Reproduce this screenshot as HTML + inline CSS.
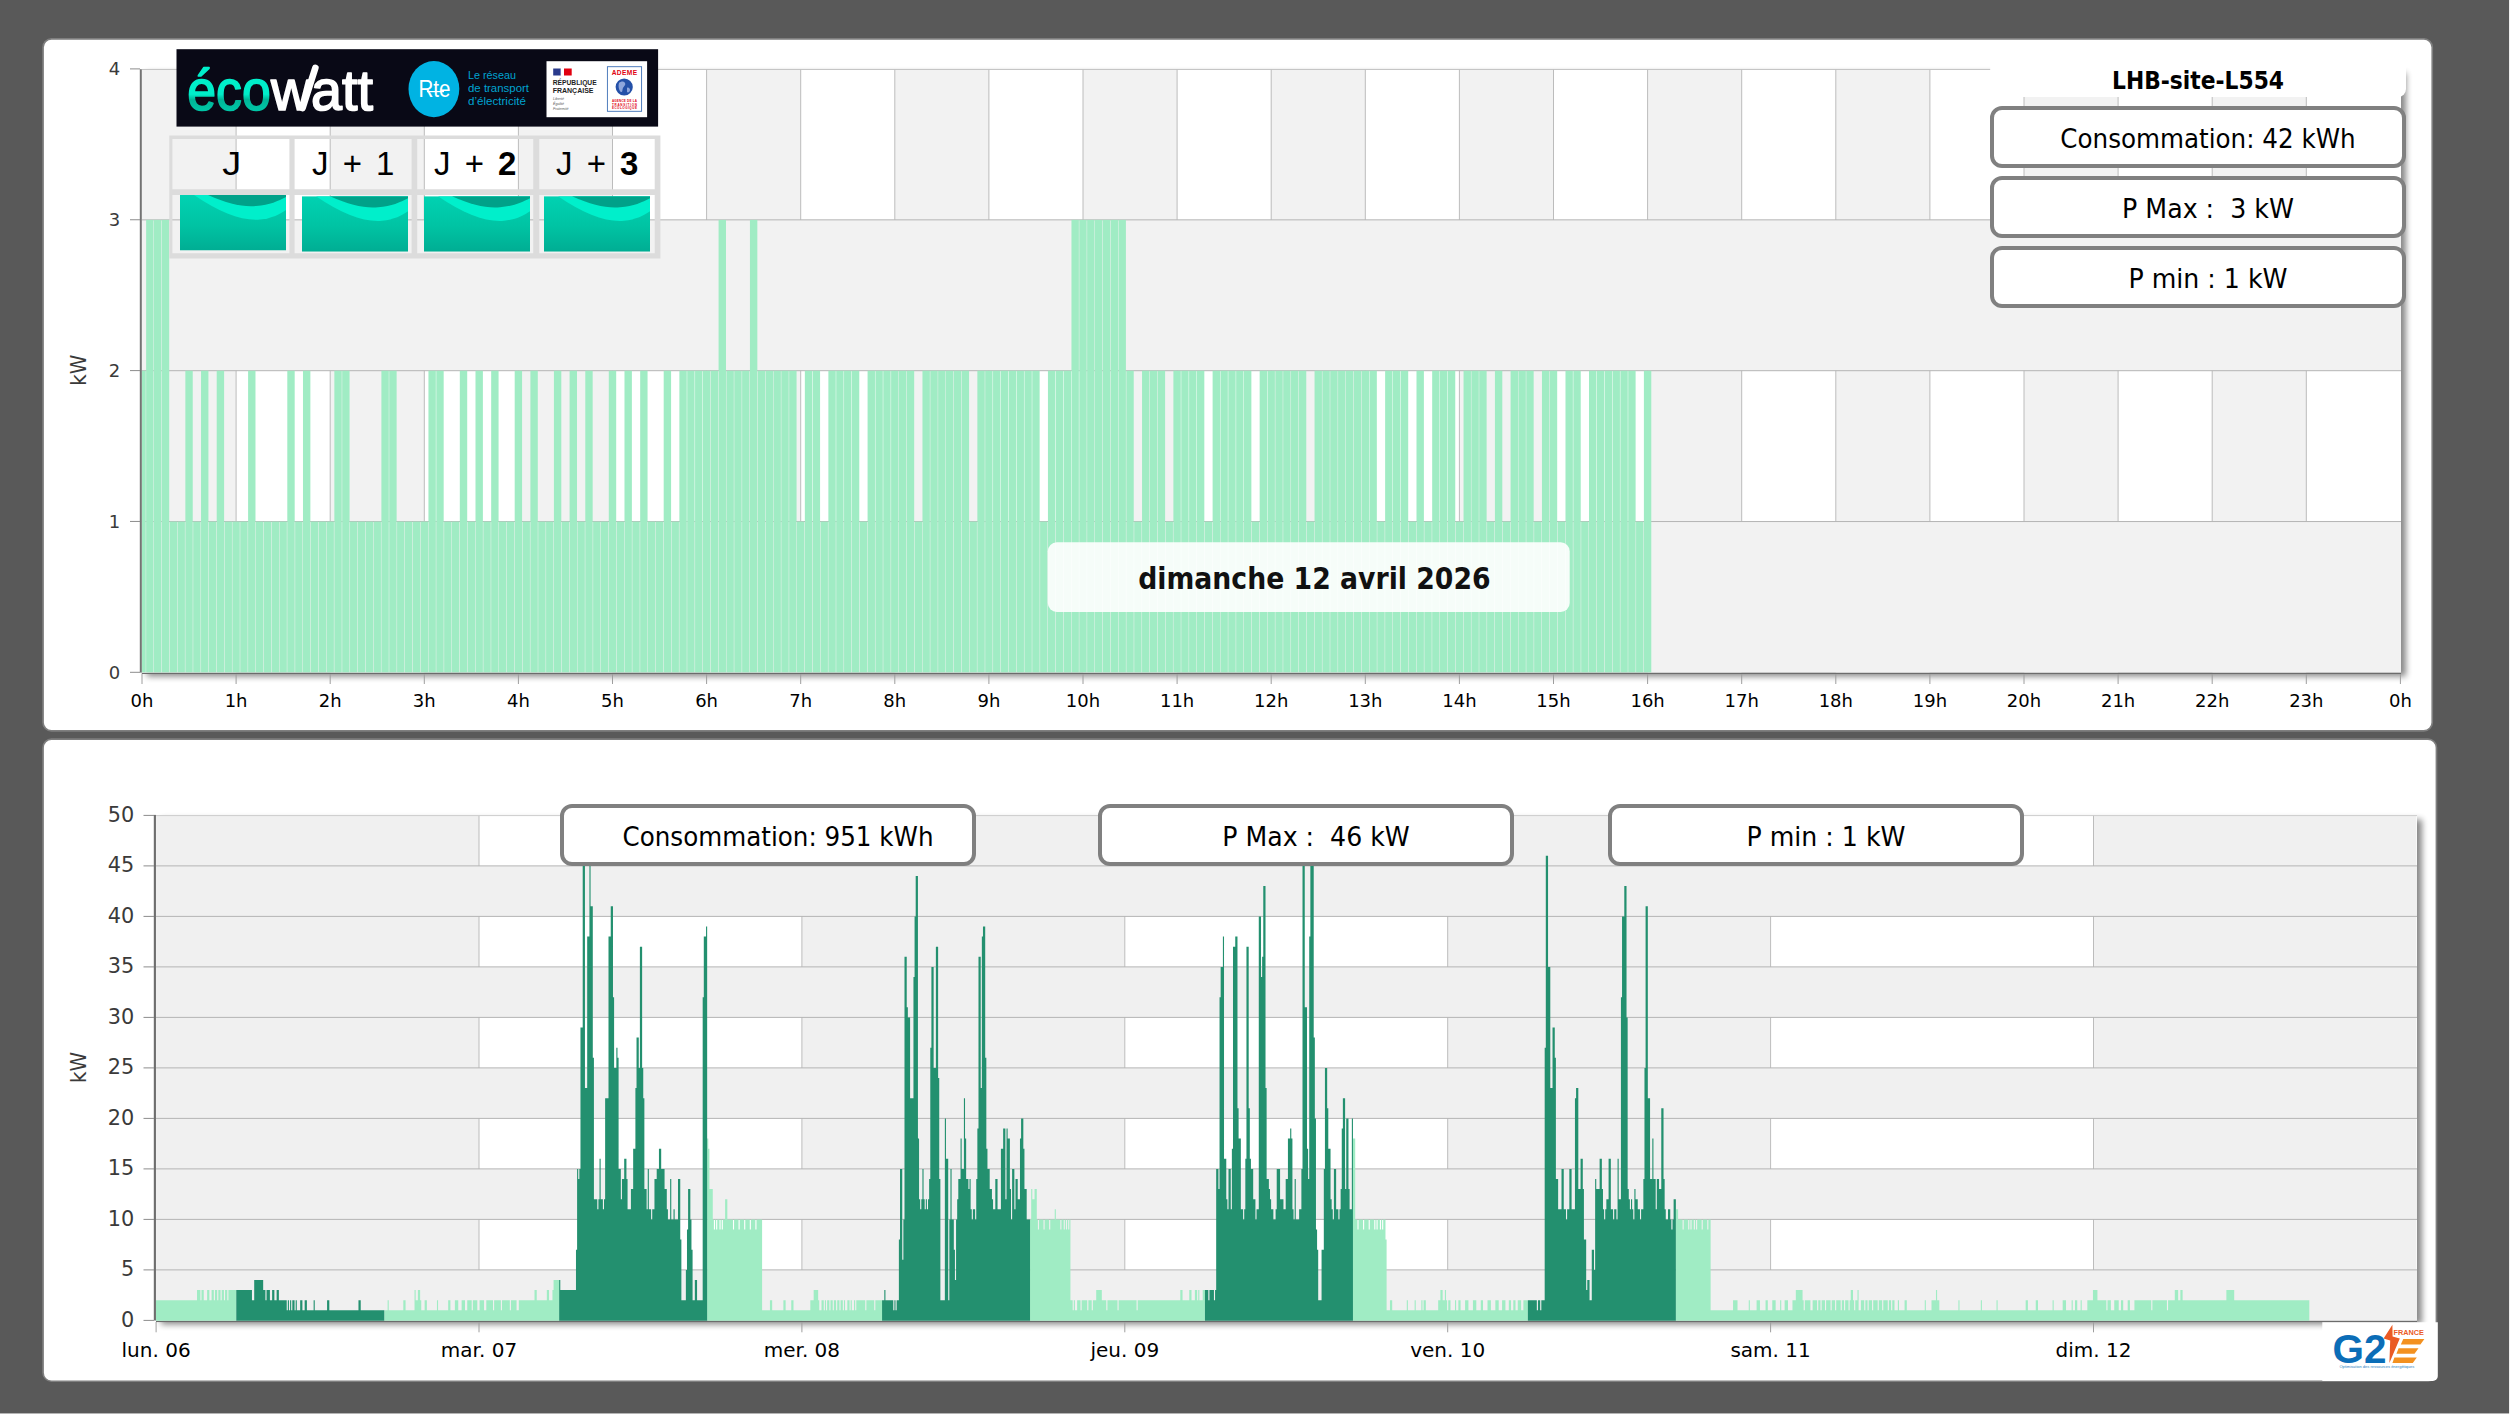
<!DOCTYPE html>
<html lang="fr"><head><meta charset="utf-8"><title>LHB-site-L554 - Suivi de consommation</title>
<style>html,body{margin:0;padding:0;background:#595959;overflow:hidden}body{width:2511px;height:1415px}svg{display:block}text{white-space:pre}</style>
</head><body>
<svg width="2511" height="1415" viewBox="0 0 2511 1415" role="img" aria-label="Tableau de bord consommation LHB-site-L554">
<defs>
<filter id="sh" x="-2%" y="-2%" width="104%" height="106%"><feGaussianBlur in="SourceAlpha" stdDeviation="3"/><feOffset dx="4.5" dy="3.5"/><feComponentTransfer><feFuncA type="linear" slope="0.47"/></feComponentTransfer></filter>
<filter id="sh2" x="-5%" y="-20%" width="110%" height="150%"><feGaussianBlur in="SourceAlpha" stdDeviation="1.6"/><feOffset dx="2" dy="2"/><feComponentTransfer><feFuncA type="linear" slope="0.5"/></feComponentTransfer></filter>
<linearGradient id="wg" x1="0" y1="0" x2="0" y2="1"><stop offset="0" stop-color="#00d2b2"/><stop offset="0.55" stop-color="#00c3a3"/><stop offset="1" stop-color="#00ad93"/></linearGradient>
<clipPath id="wc"><rect x="0" y="0" width="106" height="55.5"/></clipPath>
</defs>
<rect width="2511" height="1415" fill="#595959"/>
<rect x="2509.1" y="0" width="2" height="1415" fill="#fff"/><rect x="0" y="1413.45" width="2511" height="2" fill="#fff"/>
<rect x="43.05" y="38.85" width="2389.2" height="692.1" rx="8.5" fill="#fff" stroke="#7e7e7e" stroke-width="1.7"/>
<rect x="43.05" y="739.15" width="2393.4" height="642.1" rx="8.5" fill="#fff" stroke="#7e7e7e" stroke-width="1.7"/>
<g id="chart-day">
<rect x="141.8" y="69" width="2259.2" height="603.4" filter="url(#sh)"/>
<rect x="141.8" y="69" width="2259.2" height="603.4" fill="#fff"/>
<rect x="142" y="69" width="94.1" height="603.4" fill="#f2f2f2"/>
<rect x="330.2" y="69" width="94.1" height="603.4" fill="#f2f2f2"/>
<rect x="518.4" y="69" width="94.1" height="603.4" fill="#f2f2f2"/>
<rect x="706.6" y="69" width="94.1" height="603.4" fill="#f2f2f2"/>
<rect x="894.8" y="69" width="94.1" height="603.4" fill="#f2f2f2"/>
<rect x="1083" y="69" width="94.1" height="603.4" fill="#f2f2f2"/>
<rect x="1271.2" y="69" width="94.1" height="603.4" fill="#f2f2f2"/>
<rect x="1459.4" y="69" width="94.1" height="603.4" fill="#f2f2f2"/>
<rect x="1647.6" y="69" width="94.1" height="603.4" fill="#f2f2f2"/>
<rect x="1835.8" y="69" width="94.1" height="603.4" fill="#f2f2f2"/>
<rect x="2024" y="69" width="94.1" height="603.4" fill="#f2f2f2"/>
<rect x="2212.2" y="69" width="94.1" height="603.4" fill="#f2f2f2"/>
<path d="M236.1,69V672.4M330.2,69V672.4M424.3,69V672.4M518.4,69V672.4M612.5,69V672.4M706.6,69V672.4M800.7,69V672.4M894.8,69V672.4M988.9,69V672.4M1083,69V672.4M1177.1,69V672.4M1271.2,69V672.4M1365.3,69V672.4M1459.4,69V672.4M1553.5,69V672.4M1647.6,69V672.4M1741.7,69V672.4M1835.8,69V672.4M1929.9,69V672.4M2024,69V672.4M2118.1,69V672.4M2212.2,69V672.4M2306.3,69V672.4" stroke="#bcbcbc" stroke-width="1" fill="none"/>
<rect x="141.8" y="521.55" width="2259.2" height="150.85" fill="#f2f2f2"/>
<rect x="141.8" y="219.85" width="2259.2" height="150.85" fill="#f2f2f2"/>
<path d="M141.8,521.55H2401M141.8,370.7H2401M141.8,219.85H2401" stroke="#b4b4b4" stroke-width="1" fill="none"/>
<path d="M141.8,69.45H2401" stroke="#c2c2c2" stroke-width="1" fill="none"/>
<g fill="#a0ecc4">
<rect x="141.8" y="370.7" width="3.9" height="301.7"/>
<rect x="146.15" y="219.85" width="7.39" height="452.55"/>
<rect x="153.99" y="219.85" width="7.39" height="452.55"/>
<rect x="161.83" y="219.85" width="7.39" height="452.55"/>
<rect x="169.67" y="521.55" width="7.39" height="150.85"/>
<rect x="177.51" y="521.55" width="7.39" height="150.85"/>
<rect x="185.35" y="370.7" width="7.39" height="301.7"/>
<rect x="193.2" y="521.55" width="7.39" height="150.85"/>
<rect x="201.04" y="370.7" width="7.39" height="301.7"/>
<rect x="208.88" y="521.55" width="7.39" height="150.85"/>
<rect x="216.72" y="370.7" width="7.39" height="301.7"/>
<rect x="224.56" y="521.55" width="7.39" height="150.85"/>
<rect x="232.4" y="521.55" width="7.39" height="150.85"/>
<rect x="240.25" y="521.55" width="7.39" height="150.85"/>
<rect x="248.09" y="370.7" width="7.39" height="301.7"/>
<rect x="255.93" y="521.55" width="7.39" height="150.85"/>
<rect x="263.77" y="521.55" width="7.39" height="150.85"/>
<rect x="271.61" y="521.55" width="7.39" height="150.85"/>
<rect x="279.45" y="521.55" width="7.39" height="150.85"/>
<rect x="287.3" y="370.7" width="7.39" height="301.7"/>
<rect x="295.14" y="521.55" width="7.39" height="150.85"/>
<rect x="302.98" y="370.7" width="7.39" height="301.7"/>
<rect x="310.82" y="521.55" width="7.39" height="150.85"/>
<rect x="318.66" y="521.55" width="7.39" height="150.85"/>
<rect x="326.5" y="521.55" width="7.39" height="150.85"/>
<rect x="334.35" y="370.7" width="7.39" height="301.7"/>
<rect x="342.19" y="370.7" width="7.39" height="301.7"/>
<rect x="350.03" y="521.55" width="7.39" height="150.85"/>
<rect x="357.87" y="521.55" width="7.39" height="150.85"/>
<rect x="365.71" y="521.55" width="7.39" height="150.85"/>
<rect x="373.55" y="521.55" width="7.39" height="150.85"/>
<rect x="381.4" y="370.7" width="7.39" height="301.7"/>
<rect x="389.24" y="370.7" width="7.39" height="301.7"/>
<rect x="397.08" y="521.55" width="7.39" height="150.85"/>
<rect x="404.92" y="521.55" width="7.39" height="150.85"/>
<rect x="412.76" y="521.55" width="7.39" height="150.85"/>
<rect x="420.6" y="521.55" width="7.39" height="150.85"/>
<rect x="428.45" y="370.7" width="7.39" height="301.7"/>
<rect x="436.29" y="370.7" width="7.39" height="301.7"/>
<rect x="444.13" y="521.55" width="7.39" height="150.85"/>
<rect x="451.97" y="521.55" width="7.39" height="150.85"/>
<rect x="459.81" y="370.7" width="7.39" height="301.7"/>
<rect x="467.65" y="521.55" width="7.39" height="150.85"/>
<rect x="475.5" y="370.7" width="7.39" height="301.7"/>
<rect x="483.34" y="521.55" width="7.39" height="150.85"/>
<rect x="491.18" y="370.7" width="7.39" height="301.7"/>
<rect x="499.02" y="521.55" width="7.39" height="150.85"/>
<rect x="506.86" y="521.55" width="7.39" height="150.85"/>
<rect x="514.7" y="370.7" width="7.39" height="301.7"/>
<rect x="522.55" y="521.55" width="7.39" height="150.85"/>
<rect x="530.39" y="370.7" width="7.39" height="301.7"/>
<rect x="538.23" y="521.55" width="7.39" height="150.85"/>
<rect x="546.07" y="521.55" width="7.39" height="150.85"/>
<rect x="553.91" y="370.7" width="7.39" height="301.7"/>
<rect x="561.75" y="521.55" width="7.39" height="150.85"/>
<rect x="569.6" y="370.7" width="7.39" height="301.7"/>
<rect x="577.44" y="521.55" width="7.39" height="150.85"/>
<rect x="585.28" y="370.7" width="7.39" height="301.7"/>
<rect x="593.12" y="521.55" width="7.39" height="150.85"/>
<rect x="600.96" y="521.55" width="7.39" height="150.85"/>
<rect x="608.8" y="370.7" width="7.39" height="301.7"/>
<rect x="616.65" y="521.55" width="7.39" height="150.85"/>
<rect x="624.49" y="370.7" width="7.39" height="301.7"/>
<rect x="632.33" y="521.55" width="7.39" height="150.85"/>
<rect x="640.17" y="370.7" width="7.39" height="301.7"/>
<rect x="648.01" y="521.55" width="7.39" height="150.85"/>
<rect x="655.85" y="521.55" width="7.39" height="150.85"/>
<rect x="663.7" y="370.7" width="7.39" height="301.7"/>
<rect x="671.54" y="521.55" width="7.39" height="150.85"/>
<rect x="679.38" y="370.7" width="7.39" height="301.7"/>
<rect x="687.22" y="370.7" width="7.39" height="301.7"/>
<rect x="695.06" y="370.7" width="7.39" height="301.7"/>
<rect x="702.9" y="370.7" width="7.39" height="301.7"/>
<rect x="710.75" y="370.7" width="7.39" height="301.7"/>
<rect x="718.59" y="219.85" width="7.39" height="452.55"/>
<rect x="726.43" y="370.7" width="7.39" height="301.7"/>
<rect x="734.27" y="370.7" width="7.39" height="301.7"/>
<rect x="742.11" y="370.7" width="7.39" height="301.7"/>
<rect x="749.95" y="219.85" width="7.39" height="452.55"/>
<rect x="757.8" y="370.7" width="7.39" height="301.7"/>
<rect x="765.64" y="370.7" width="7.39" height="301.7"/>
<rect x="773.48" y="370.7" width="7.39" height="301.7"/>
<rect x="781.32" y="370.7" width="7.39" height="301.7"/>
<rect x="789.16" y="370.7" width="7.39" height="301.7"/>
<rect x="797" y="521.55" width="7.39" height="150.85"/>
<rect x="804.85" y="370.7" width="7.39" height="301.7"/>
<rect x="812.69" y="370.7" width="7.39" height="301.7"/>
<rect x="820.53" y="521.55" width="7.39" height="150.85"/>
<rect x="828.37" y="370.7" width="7.39" height="301.7"/>
<rect x="836.21" y="370.7" width="7.39" height="301.7"/>
<rect x="844.05" y="370.7" width="7.39" height="301.7"/>
<rect x="851.9" y="370.7" width="7.39" height="301.7"/>
<rect x="859.74" y="521.55" width="7.39" height="150.85"/>
<rect x="867.58" y="370.7" width="7.39" height="301.7"/>
<rect x="875.42" y="370.7" width="7.39" height="301.7"/>
<rect x="883.26" y="370.7" width="7.39" height="301.7"/>
<rect x="891.1" y="370.7" width="7.39" height="301.7"/>
<rect x="898.95" y="370.7" width="7.39" height="301.7"/>
<rect x="906.79" y="370.7" width="7.39" height="301.7"/>
<rect x="914.63" y="521.55" width="7.39" height="150.85"/>
<rect x="922.47" y="370.7" width="7.39" height="301.7"/>
<rect x="930.31" y="370.7" width="7.39" height="301.7"/>
<rect x="938.15" y="370.7" width="7.39" height="301.7"/>
<rect x="946" y="370.7" width="7.39" height="301.7"/>
<rect x="953.84" y="370.7" width="7.39" height="301.7"/>
<rect x="961.68" y="370.7" width="7.39" height="301.7"/>
<rect x="969.52" y="521.55" width="7.39" height="150.85"/>
<rect x="977.36" y="370.7" width="7.39" height="301.7"/>
<rect x="985.2" y="370.7" width="7.39" height="301.7"/>
<rect x="993.05" y="370.7" width="7.39" height="301.7"/>
<rect x="1000.89" y="370.7" width="7.39" height="301.7"/>
<rect x="1008.73" y="370.7" width="7.39" height="301.7"/>
<rect x="1016.57" y="370.7" width="7.39" height="301.7"/>
<rect x="1024.41" y="370.7" width="7.39" height="301.7"/>
<rect x="1032.25" y="370.7" width="7.39" height="301.7"/>
<rect x="1040.1" y="521.55" width="7.39" height="150.85"/>
<rect x="1047.94" y="370.7" width="7.39" height="301.7"/>
<rect x="1055.78" y="370.7" width="7.39" height="301.7"/>
<rect x="1063.62" y="370.7" width="7.39" height="301.7"/>
<rect x="1071.46" y="219.85" width="7.39" height="452.55"/>
<rect x="1079.3" y="219.85" width="7.39" height="452.55"/>
<rect x="1087.15" y="219.85" width="7.39" height="452.55"/>
<rect x="1094.99" y="219.85" width="7.39" height="452.55"/>
<rect x="1102.83" y="219.85" width="7.39" height="452.55"/>
<rect x="1110.67" y="219.85" width="7.39" height="452.55"/>
<rect x="1118.51" y="219.85" width="7.39" height="452.55"/>
<rect x="1126.35" y="370.7" width="7.39" height="301.7"/>
<rect x="1134.2" y="521.55" width="7.39" height="150.85"/>
<rect x="1142.04" y="370.7" width="7.39" height="301.7"/>
<rect x="1149.88" y="370.7" width="7.39" height="301.7"/>
<rect x="1157.72" y="370.7" width="7.39" height="301.7"/>
<rect x="1165.56" y="521.55" width="7.39" height="150.85"/>
<rect x="1173.4" y="370.7" width="7.39" height="301.7"/>
<rect x="1181.25" y="370.7" width="7.39" height="301.7"/>
<rect x="1189.09" y="370.7" width="7.39" height="301.7"/>
<rect x="1196.93" y="370.7" width="7.39" height="301.7"/>
<rect x="1204.77" y="521.55" width="7.39" height="150.85"/>
<rect x="1212.61" y="370.7" width="7.39" height="301.7"/>
<rect x="1220.45" y="370.7" width="7.39" height="301.7"/>
<rect x="1228.3" y="370.7" width="7.39" height="301.7"/>
<rect x="1236.14" y="370.7" width="7.39" height="301.7"/>
<rect x="1243.98" y="370.7" width="7.39" height="301.7"/>
<rect x="1251.82" y="521.55" width="7.39" height="150.85"/>
<rect x="1259.66" y="370.7" width="7.39" height="301.7"/>
<rect x="1267.5" y="370.7" width="7.39" height="301.7"/>
<rect x="1275.35" y="370.7" width="7.39" height="301.7"/>
<rect x="1283.19" y="370.7" width="7.39" height="301.7"/>
<rect x="1291.03" y="370.7" width="7.39" height="301.7"/>
<rect x="1298.87" y="370.7" width="7.39" height="301.7"/>
<rect x="1306.71" y="521.55" width="7.39" height="150.85"/>
<rect x="1314.55" y="370.7" width="7.39" height="301.7"/>
<rect x="1322.4" y="370.7" width="7.39" height="301.7"/>
<rect x="1330.24" y="370.7" width="7.39" height="301.7"/>
<rect x="1338.08" y="370.7" width="7.39" height="301.7"/>
<rect x="1345.92" y="370.7" width="7.39" height="301.7"/>
<rect x="1353.76" y="370.7" width="7.39" height="301.7"/>
<rect x="1361.6" y="370.7" width="7.39" height="301.7"/>
<rect x="1369.45" y="370.7" width="7.39" height="301.7"/>
<rect x="1377.29" y="521.55" width="7.39" height="150.85"/>
<rect x="1385.13" y="370.7" width="7.39" height="301.7"/>
<rect x="1392.97" y="370.7" width="7.39" height="301.7"/>
<rect x="1400.81" y="370.7" width="7.39" height="301.7"/>
<rect x="1408.65" y="521.55" width="7.39" height="150.85"/>
<rect x="1416.5" y="370.7" width="7.39" height="301.7"/>
<rect x="1424.34" y="521.55" width="7.39" height="150.85"/>
<rect x="1432.18" y="370.7" width="7.39" height="301.7"/>
<rect x="1440.02" y="370.7" width="7.39" height="301.7"/>
<rect x="1447.86" y="370.7" width="7.39" height="301.7"/>
<rect x="1455.7" y="521.55" width="7.39" height="150.85"/>
<rect x="1463.55" y="370.7" width="7.39" height="301.7"/>
<rect x="1471.39" y="370.7" width="7.39" height="301.7"/>
<rect x="1479.23" y="370.7" width="7.39" height="301.7"/>
<rect x="1487.07" y="521.55" width="7.39" height="150.85"/>
<rect x="1494.91" y="370.7" width="7.39" height="301.7"/>
<rect x="1502.75" y="521.55" width="7.39" height="150.85"/>
<rect x="1510.6" y="370.7" width="7.39" height="301.7"/>
<rect x="1518.44" y="370.7" width="7.39" height="301.7"/>
<rect x="1526.28" y="370.7" width="7.39" height="301.7"/>
<rect x="1534.12" y="521.55" width="7.39" height="150.85"/>
<rect x="1541.96" y="370.7" width="7.39" height="301.7"/>
<rect x="1549.8" y="370.7" width="7.39" height="301.7"/>
<rect x="1557.65" y="521.55" width="7.39" height="150.85"/>
<rect x="1565.49" y="370.7" width="7.39" height="301.7"/>
<rect x="1573.33" y="370.7" width="7.39" height="301.7"/>
<rect x="1581.17" y="521.55" width="7.39" height="150.85"/>
<rect x="1589.01" y="370.7" width="7.39" height="301.7"/>
<rect x="1596.85" y="370.7" width="7.39" height="301.7"/>
<rect x="1604.7" y="370.7" width="7.39" height="301.7"/>
<rect x="1612.54" y="370.7" width="7.39" height="301.7"/>
<rect x="1620.38" y="370.7" width="7.39" height="301.7"/>
<rect x="1628.22" y="370.7" width="7.39" height="301.7"/>
<rect x="1636.06" y="521.55" width="7.39" height="150.85"/>
<rect x="1643.9" y="370.7" width="7.39" height="301.7"/>
</g>
<rect x="139.8" y="69.2" width="2" height="603.4" fill="#737373"/>
<rect x="141.8" y="672.9" width="2259.2" height="1.1" fill="#6c6c6c"/>
<path d="M130,672.3H140M130,521.45H140M130,370.6H140M130,219.75H140M130,68.9H140" stroke="#8c8c8c" stroke-width="1" fill="none"/>
<path d="M142,674V684M236.1,674V684M330.2,674V684M424.3,674V684M518.4,674V684M612.5,674V684M706.6,674V684M800.7,674V684M894.8,674V684M988.9,674V684M1083,674V684M1177.1,674V684M1271.2,674V684M1365.3,674V684M1459.4,674V684M1553.5,674V684M1647.6,674V684M1741.7,674V684M1835.8,674V684M1929.9,674V684M2024,674V684M2118.1,674V684M2212.2,674V684M2306.3,674V684M2400.4,674V684" stroke="#9e9e9e" stroke-width="1" fill="none"/>
<g font-family="'DejaVu Sans','Liberation Sans',sans-serif" font-size="18" fill="#3a3a3a" text-anchor="end">
<text x="120.3" y="678.5">0</text>
<text x="120.3" y="527.65">1</text>
<text x="120.3" y="376.8">2</text>
<text x="120.3" y="225.95">3</text>
<text x="120.3" y="75.1">4</text>
</g>
<g font-family="'DejaVu Sans','Liberation Sans',sans-serif" font-size="18" fill="#000" text-anchor="middle">
<text x="142" y="707">0h</text>
<text x="236.1" y="707">1h</text>
<text x="330.2" y="707">2h</text>
<text x="424.3" y="707">3h</text>
<text x="518.4" y="707">4h</text>
<text x="612.5" y="707">5h</text>
<text x="706.6" y="707">6h</text>
<text x="800.7" y="707">7h</text>
<text x="894.8" y="707">8h</text>
<text x="988.9" y="707">9h</text>
<text x="1083" y="707">10h</text>
<text x="1177.1" y="707">11h</text>
<text x="1271.2" y="707">12h</text>
<text x="1365.3" y="707">13h</text>
<text x="1459.4" y="707">14h</text>
<text x="1553.5" y="707">15h</text>
<text x="1647.6" y="707">16h</text>
<text x="1741.7" y="707">17h</text>
<text x="1835.8" y="707">18h</text>
<text x="1929.9" y="707">19h</text>
<text x="2024" y="707">20h</text>
<text x="2118.1" y="707">21h</text>
<text x="2212.2" y="707">22h</text>
<text x="2306.3" y="707">23h</text>
<text x="2400.4" y="707">0h</text>
</g>
<text transform="translate(86,370.2) rotate(-90)" font-family="'DejaVu Sans Condensed','Liberation Sans',sans-serif" font-size="22" fill="#3a3a3a" text-anchor="middle">kW</text>
</g>
<g id="ecowatt">
<rect x="176.5" y="49.2" width="481.6" height="77.4" fill="#090916"/>
<defs><linearGradient id="eg" gradientUnits="userSpaceOnUse" x1="0" y1="60" x2="0" y2="112"><stop offset="0" stop-color="#00f0cc"/><stop offset="0.66" stop-color="#00eec9"/><stop offset="0.76" stop-color="#00b597"/><stop offset="1" stop-color="#00c8a8"/></linearGradient></defs>
<text x="187.3" y="110.3" font-family="'Liberation Sans',sans-serif" font-size="58" fill="url(#eg)" stroke="url(#eg)" stroke-width="1.7" stroke-linejoin="round" textLength="83.5" lengthAdjust="spacingAndGlyphs">éco</text>
<text x="271" y="110.3" font-family="'Liberation Sans',sans-serif" font-size="58" fill="#fff" stroke="#fff" stroke-width="1.7" stroke-linejoin="round" textLength="40.5" lengthAdjust="spacingAndGlyphs">w</text>
<path d="M302.6,108 L315.4,67.8" stroke="#fff" stroke-width="6.6" stroke-linecap="round" fill="none"/>
<text x="311" y="110.3" font-family="'Liberation Sans',sans-serif" font-size="58" fill="#fff" stroke="#fff" stroke-width="1.7" stroke-linejoin="round" textLength="62" lengthAdjust="spacingAndGlyphs">att</text>
<ellipse cx="433.9" cy="89.1" rx="25.4" ry="28.1" fill="#00b3e3"/>
<text x="434.5" y="96.6" font-family="'Liberation Sans',sans-serif" font-size="23" fill="#fff" text-anchor="middle" textLength="32" lengthAdjust="spacingAndGlyphs">Rte</text>
<path d="M427,91.6H444" stroke="#fff" stroke-width="1.2"/>
<g font-family="'Liberation Sans',sans-serif" font-size="11.6" fill="#00a3d0"><text x="468" y="78.8" textLength="48" lengthAdjust="spacingAndGlyphs">Le réseau</text><text x="468" y="92.1" textLength="61" lengthAdjust="spacingAndGlyphs">de transport</text><text x="468" y="105.2">d’électricité</text></g>
<rect x="546.5" y="61.2" width="100.6" height="56" fill="#fff"/>
<rect x="553.2" y="68.5" width="7.6" height="7" fill="#2a3a8c"/><rect x="560.8" y="68.5" width="3.2" height="7" fill="#fff"/><rect x="564" y="68.5" width="7.7" height="7" fill="#e1000f"/>
<g font-family="'Liberation Sans',sans-serif" font-weight="bold" font-size="7.4" fill="#1e1e1e"><text x="552.7" y="84.7" textLength="44" lengthAdjust="spacingAndGlyphs">RÉPUBLIQUE</text><text x="552.7" y="93.3" textLength="40.8" lengthAdjust="spacingAndGlyphs">FRANÇAISE</text></g>
<g font-family="'Liberation Sans',sans-serif" font-style="italic" font-size="3.6" fill="#555"><text x="553" y="99.8">Liberté</text><text x="553" y="104.7">Égalité</text><text x="553" y="109.6">Fraternité</text></g>
<rect x="607.4" y="66.7" width="34.2" height="44.6" fill="#fff" stroke="#3d6fb6" stroke-width="0.9"/>
<text x="624.4" y="75" font-family="'Liberation Sans',sans-serif" font-weight="bold" font-size="6.6" fill="#e1000f" text-anchor="middle" textLength="25.5" lengthAdjust="spacing">ADEME</text>
<circle cx="624.2" cy="87" r="8.6" fill="#2450a8"/><path d="M619,83c2,-2 5,-2 6,0c1,2 -1,3 -2,5c-1,2 0,4 -2,4c-2,-1 -3,-6 -2,-9z" fill="#8fa6dc"/><path d="M627,88c1,-1 3,0 3,2c0,2 -2,3 -3,2z" fill="#8fa6dc"/>
<g font-family="'Liberation Sans',sans-serif" font-weight="bold" font-size="3" fill="#e1000f" text-anchor="middle"><text x="624.4" y="102.3" textLength="25" lengthAdjust="spacing">AGENCE DE LA</text><text x="624.4" y="105.6" textLength="25" lengthAdjust="spacing">TRANSITION</text><text x="624.4" y="108.9" textLength="25" lengthAdjust="spacing">ÉCOLOGIQUE</text></g>
</g>
<g id="jtable">
<path fill="#dcdcdc" fill-rule="evenodd" d="M169.3,135.4H660.4V258.6H169.3Z M172.4,139H289.4V189.2H172.4Z M294.6,139H411.6V189.2H294.6Z M417.2,139H533.2V189.2H417.2Z M539.3,139H654.7V189.2H539.3Z M172.4,194.9H289.4V253.2H172.4Z M294.6,194.9H411.6V253.2H294.6Z M417.2,194.9H533.2V253.2H417.2Z M539.3,194.9H654.7V253.2H539.3Z"/>
<g transform="translate(180,195)" clip-path="url(#wc)"><rect width="106" height="55.5" fill="url(#wg)"/><path d="M14,0 C40,18 62,26 80,24.5 C92,23.5 100,19 106,15 L106,0 Z" fill="#00efcb"/><path d="M28,0 C48,9 62,12 76,11 C90,10 98,6 106,2 L106,0 Z" fill="#00a189"/></g>
<g transform="translate(302,196.2)" clip-path="url(#wc)"><rect width="106" height="55.5" fill="url(#wg)"/><path d="M14,0 C40,18 62,26 80,24.5 C92,23.5 100,19 106,15 L106,0 Z" fill="#00efcb"/><path d="M28,0 C48,9 62,12 76,11 C90,10 98,6 106,2 L106,0 Z" fill="#00a189"/></g>
<g transform="translate(424,196.2)" clip-path="url(#wc)"><rect width="106" height="55.5" fill="url(#wg)"/><path d="M14,0 C40,18 62,26 80,24.5 C92,23.5 100,19 106,15 L106,0 Z" fill="#00efcb"/><path d="M28,0 C48,9 62,12 76,11 C90,10 98,6 106,2 L106,0 Z" fill="#00a189"/></g>
<g transform="translate(544,196.2)" clip-path="url(#wc)"><rect width="106" height="55.5" fill="url(#wg)"/><path d="M14,0 C40,18 62,26 80,24.5 C92,23.5 100,19 106,15 L106,0 Z" fill="#00efcb"/><path d="M28,0 C48,9 62,12 76,11 C90,10 98,6 106,2 L106,0 Z" fill="#00a189"/></g>
<g font-family="'Liberation Sans',sans-serif" font-size="33" fill="#000" word-spacing="5">
<text x="222.3" y="175.2" textLength="19" lengthAdjust="spacingAndGlyphs">J</text>
<text x="312" y="175.2">J + 1</text>
<text x="434" y="175.2">J + <tspan font-weight="bold">2</tspan></text>
<text x="556" y="175.2">J + <tspan font-weight="bold">3</tspan></text>
</g></g>
<g id="infos-day">
<path d="M1990.2,50H2406V89a8,8 0 0 1 -8,8H1990.2Z" fill="#fff"/>
<text x="2198" y="89" font-family="'DejaVu Sans Condensed','Liberation Sans',sans-serif" font-weight="bold" font-size="24" fill="#000" text-anchor="middle" textLength="172" lengthAdjust="spacingAndGlyphs">LHB-site-L554</text>
<rect x="1992" y="108" width="412" height="58" rx="10" fill="#fff" stroke="#808080" stroke-width="4"/>
<text x="2208" y="148.4" font-family="'DejaVu Sans Condensed','Liberation Sans',sans-serif" font-size="26.6" fill="#000" text-anchor="middle" textLength="295.3" lengthAdjust="spacingAndGlyphs">Consommation: 42 kWh</text>
<rect x="1992" y="178" width="412" height="58" rx="10" fill="#fff" stroke="#808080" stroke-width="4"/>
<text x="2208" y="218.4" font-family="'DejaVu Sans Condensed','Liberation Sans',sans-serif" font-size="26.6" fill="#000" text-anchor="middle" textLength="171.9" lengthAdjust="spacingAndGlyphs">P Max :  3 kW</text>
<rect x="1992" y="248" width="412" height="58" rx="10" fill="#fff" stroke="#808080" stroke-width="4"/>
<text x="2208" y="288.4" font-family="'DejaVu Sans Condensed','Liberation Sans',sans-serif" font-size="26.6" fill="#000" text-anchor="middle" textLength="159" lengthAdjust="spacingAndGlyphs">P min : 1 kW</text>
</g>
<rect x="1047.8" y="542.3" width="521.9" height="69.6" rx="9" fill="#fff" fill-opacity="0.9"/>
<text x="1314.4" y="589.1" font-family="'DejaVu Sans Condensed','Liberation Sans',sans-serif" font-weight="bold" font-size="30" fill="#111" text-anchor="middle" textLength="352.3" lengthAdjust="spacingAndGlyphs">dimanche 12 avril 2026</text>
<g id="chart-week">
<rect x="156" y="815.4" width="2261" height="505" filter="url(#sh)"/>
<rect x="156" y="815.4" width="2261" height="505" fill="#fff"/>
<rect x="156.1" y="815.4" width="322.9" height="505" fill="#f0f0f0"/>
<rect x="801.9" y="815.4" width="322.9" height="505" fill="#f0f0f0"/>
<rect x="1447.7" y="815.4" width="322.9" height="505" fill="#f0f0f0"/>
<rect x="2093.5" y="815.4" width="322.9" height="505" fill="#f0f0f0"/>
<path d="M479,815.4V1320.4M801.9,815.4V1320.4M1124.8,815.4V1320.4M1447.7,815.4V1320.4M1770.6,815.4V1320.4M2093.5,815.4V1320.4" stroke="#bcbcbc" stroke-width="1" fill="none"/>
<rect x="156" y="1269.9" width="2261" height="50.5" fill="#f0f0f0"/>
<rect x="156" y="1168.9" width="2261" height="50.5" fill="#f0f0f0"/>
<rect x="156" y="1067.9" width="2261" height="50.5" fill="#f0f0f0"/>
<rect x="156" y="966.9" width="2261" height="50.5" fill="#f0f0f0"/>
<rect x="156" y="865.9" width="2261" height="50.5" fill="#f0f0f0"/>
<path d="M156,1269.9H2417M156,1219.4H2417M156,1168.9H2417M156,1118.4H2417M156,1067.9H2417M156,1017.4H2417M156,966.9H2417M156,916.4H2417M156,865.9H2417" stroke="#b4b4b4" stroke-width="1" fill="none"/>
<path d="M156,815.6H2417" stroke="#cdcdcd" stroke-width="1" fill="none"/>
<path fill="#a0ecc4" d="M156,1320.8V1300.2H197.02V1290.1H200.39V1300.2H201.51V1290.1H203.75V1300.2H207.11V1290.1H209.36V1300.2H211.6V1290.1H213.84V1300.2H214.96V1290.1H217.2V1300.2H218.33V1290.1H220.57V1300.2H221.69V1290.1H223.93V1300.2H225.05V1290.1H227.29V1300.2H228.42V1290.1H236.26V1320.8ZM384.26,1320.8V1310.3H387.62V1300.2H388.74V1310.3H403.32V1300.2H405.56V1310.3H414.53V1290.1H415.65V1300.2H417.9V1290.1H420.14V1300.2H421.26V1310.3H424.62V1300.2H426.87V1310.3H436.96V1300.2H438.08V1310.3H448.17V1300.2H450.41V1310.3H454.89V1300.2H458.26V1310.3H461.62V1300.2H464.99V1310.3H467.23V1300.2H471.71V1310.3H472.83V1300.2H477.32V1310.3H479.56V1300.2H484.05V1310.3H486.29V1300.2H493.01V1310.3H494.14V1300.2H500.86V1310.3H501.98V1300.2H509.83V1310.3H510.95V1300.2H516.56V1310.3H518.8V1300.2H534.5V1290.1H536.74V1300.2H546.83V1290.1H549.07V1300.2H552.44V1290.1H553.56V1280H559.16V1320.8ZM707.16,1320.8V1138.6H708.28V1148.7H709.4V1189.1H712.77V1219.4H713.89V1229.5H715.01V1219.4H716.13V1229.5H717.25V1219.4H719.49V1229.5H720.61V1219.4H721.74V1229.5H722.86V1219.4H725.1V1199.2H727.34V1219.4H732.95V1229.5H734.07V1219.4H738.55V1229.5H739.67V1219.4H744.16V1229.5H745.28V1219.4H749.77V1229.5H750.89V1219.4H755.37V1229.5H756.49V1219.4H762.1V1310.3H769.95V1300.2H772.19V1310.3H783.4V1300.2H785.64V1310.3H791.25V1300.2H793.49V1310.3H810.31V1300.2H813.67V1290.1H818.16V1300.2H819.28V1310.3H821.52V1300.2H823.76V1310.3H824.88V1300.2H826.01V1310.3H827.13V1300.2H829.37V1310.3H830.49V1300.2H832.73V1310.3H833.85V1300.2H836.1V1310.3H837.22V1300.2H839.46V1310.3H840.58V1300.2H842.82V1310.3H843.94V1300.2H845.07V1310.3H847.31V1300.2H849.55V1310.3H850.67V1300.2H851.79V1310.3H854.03V1300.2H855.16V1310.3H856.28V1300.2H865.25V1310.3H866.37V1300.2H874.22V1310.3H875.34V1300.2H882.06V1320.8ZM1030.06,1320.8V1219.4H1031.18V1189.1H1032.3V1199.2H1034.54V1189.1H1036.79V1219.4H1037.91V1229.5H1039.03V1219.4H1043.51V1229.5H1044.64V1219.4H1049.12V1229.5H1050.24V1219.4H1054.73V1209.3H1055.85V1219.4H1060.33V1229.5H1061.45V1219.4H1063.7V1229.5H1064.82V1219.4H1065.94V1229.5H1067.06V1219.4H1068.18V1229.5H1069.3V1219.4H1070.42V1300.2H1072.67V1310.3H1073.79V1300.2H1074.91V1310.3H1077.15V1300.2H1080.51V1310.3H1081.63V1300.2H1087.24V1310.3H1088.36V1300.2H1091.73V1310.3H1092.85V1300.2H1096.21V1290.1H1101.82V1300.2H1106.3V1310.3H1107.42V1300.2H1117.51V1310.3H1118.63V1300.2H1136.57V1310.3H1137.69V1300.2H1180.3V1290.1H1182.54V1300.2H1189.27V1290.1H1191.51V1300.2H1194.87V1290.1H1197.12V1300.2H1198.24V1290.1H1199.36V1300.2H1202.72V1290.1H1204.96V1320.8ZM1352.96,1320.8V1138.6H1355.2V1219.4H1357.44V1229.5H1358.57V1219.4H1363.05V1229.5H1364.17V1219.4H1368.66V1229.5H1369.78V1219.4H1374.26V1229.5H1375.38V1219.4H1376.51V1229.5H1377.63V1219.4H1379.87V1229.5H1380.99V1219.4H1382.11V1229.5H1383.23V1219.4H1385.47V1239.6H1386.6V1310.3H1389.96V1300.2H1392.2V1310.3H1406.78V1300.2H1407.9V1310.3H1414.63V1300.2H1415.75V1310.3H1421.35V1300.2H1422.47V1310.3H1423.59V1300.2H1425.84V1310.3H1438.17V1300.2H1440.41V1290.1H1442.65V1300.2H1444.9V1290.1H1446.02V1300.2H1447.14V1310.3H1448.26V1300.2H1450.5V1310.3H1454.99V1300.2H1456.11V1310.3H1458.35V1300.2H1460.59V1310.3H1465.08V1300.2H1468.44V1310.3H1472.93V1300.2H1476.29V1310.3H1480.77V1300.2H1483.02V1310.3H1487.5V1300.2H1490.87V1310.3H1495.35V1300.2H1498.71V1310.3H1502.08V1300.2H1505.44V1310.3H1508.8V1300.2H1511.05V1310.3H1513.29V1300.2H1515.53V1310.3H1517.77V1300.2H1521.14V1310.3H1523.38V1300.2H1527.86V1320.8ZM1675.86,1320.8V1209.3H1678.1V1219.4H1682.59V1229.5H1683.71V1219.4H1688.19V1229.5H1689.31V1219.4H1690.44V1229.5H1691.56V1219.4H1693.8V1229.5H1694.92V1219.4H1696.04V1229.5H1697.16V1219.4H1701.65V1229.5H1702.77V1219.4H1707.25V1229.5H1708.37V1219.4H1710.62V1310.3H1733.04V1300.2H1737.53V1310.3H1748.74V1300.2H1749.86V1310.3H1756.59V1300.2H1759.95V1310.3H1765.55V1300.2H1767.8V1310.3H1772.28V1300.2H1775.65V1310.3H1780.13V1300.2H1781.25V1310.3H1784.61V1300.2H1787.98V1310.3H1792.46V1300.2H1795.83V1290.1H1802.55V1300.2H1803.67V1310.3H1804.8V1300.2H1810.4V1310.3H1812.64V1300.2H1817.13V1310.3H1818.25V1300.2H1820.49V1310.3H1821.61V1300.2H1824.98V1310.3H1826.1V1300.2H1830.58V1310.3H1831.7V1300.2H1835.07V1310.3H1836.19V1300.2H1840.67V1310.3H1841.79V1300.2H1844.04V1310.3H1845.16V1300.2H1848.52V1310.3H1849.64V1300.2H1850.76V1290.1H1853.01V1300.2H1854.13V1310.3H1855.25V1300.2H1857.49V1290.1H1858.61V1310.3H1860.86V1300.2H1864.22V1310.3H1865.34V1300.2H1867.58V1310.3H1868.7V1300.2H1872.07V1310.3H1873.19V1300.2H1877.67V1310.3H1878.79V1300.2H1882.16V1310.3H1883.28V1300.2H1887.76V1310.3H1888.88V1300.2H1891.13V1310.3H1892.25V1300.2H1894.49V1310.3H1897.85V1300.2H1898.98V1310.3H1904.58V1300.2H1906.82V1310.3H1924.76V1300.2H1925.88V1310.3H1931.49V1300.2H1935.97V1290.1H1937.1V1300.2H1939.34V1310.3H1958.4V1300.2H1959.52V1310.3H1980.82V1300.2H1981.94V1310.3H1996.52V1300.2H1997.64V1310.3H2025.67V1300.2H2027.91V1310.3H2035.76V1300.2H2038V1310.3H2052.58V1300.2H2053.7V1310.3H2062.67V1300.2H2066.03V1310.3H2071.64V1300.2H2072.76V1310.3H2075V1300.2H2077.24V1310.3H2080.61V1300.2H2081.73V1310.3H2087.33V1300.2H2092.94V1290.1H2097.42V1300.2H2106.39V1310.3H2107.51V1300.2H2110.88V1310.3H2114.24V1300.2H2118.73V1310.3H2120.97V1300.2H2123.21V1310.3H2127.7V1300.2H2129.94V1310.3H2134.42V1300.2H2151.24V1310.3H2152.36V1300.2H2166.94V1310.3H2168.06V1300.2H2174.79V1290.1H2178.15V1300.2H2180.39V1290.1H2182.63V1300.2H2226.36V1290.1H2234.21V1300.2H2309.33V1320.8Z"/>
<path fill="#23906f" d="M236.26,1320.8V1290.1H251.96V1300.2H254.2V1280H263.17V1290.1H265.42V1300.2H266.54V1290.1H269.9V1300.2H272.14V1290.1H274.38V1300.2H276.63V1290.1H278.87V1300.2H286.72V1310.3H287.84V1300.2H288.96V1310.3H290.08V1300.2H291.2V1310.3H292.32V1300.2H294.57V1310.3H295.69V1300.2H296.81V1310.3H300.17V1300.2H302.41V1310.3H304.66V1300.2H306.9V1310.3H313.63V1300.2H314.75V1310.3H327.08V1300.2H329.32V1310.3H358.47V1300.2H360.72V1310.3H384.26V1320.8ZM559.16,1320.8V1280H560.29V1290.1H575.98V1249.7H577.1V1168.9H578.22V1179H579.35V1168.9H580.47V1027.5H582.71V855.8H584.95V1088.1H587.19V936.6H589.44V855.8H590.56V906.3H592.8V1057.8H593.92V1199.2H597.28V1209.3H598.41V1199.2H599.53V1158.8H600.65V1199.2H602.89V1209.3H604.01V1199.2H605.13V1098.2H608.5V936.6H610.74V906.3H612.98V997.2H614.1V1067.9H616.34V1047.7H617.47V1057.8H618.59V1168.9H620.83V1199.2H621.95V1179H624.19V1158.8H626.44V1179H627.56V1209.3H630.92V1189.1H633.16V1148.7H635.4V1088.1H636.53V1037.6H638.77V1067.9H639.89V946.7H642.13V1067.9H643.25V1098.2H644.37V1189.1H646.62V1209.3H647.74V1168.9H648.86V1209.3H651.1V1219.4H652.22V1209.3H654.46V1179H656.71V1168.9H658.95V1148.7H661.19V1168.9H664.56V1189.1H666.8V1209.3H667.92V1219.4H670.16V1179H671.28V1219.4H673.52V1209.3H674.65V1219.4H678.01V1179H680.25V1239.6H681.37V1300.2H685.86V1269.9H686.98V1229.5H688.1V1189.1H690.34V1219.4H691.46V1249.7H692.58V1300.2H694.83V1280H697.07V1300.2H702.68V997.2H703.8V936.6H706.04V926.5H707.16V1320.8ZM882.06,1320.8V1300.2H884.31V1290.1H885.43V1300.2H893.28V1310.3H894.4V1300.2H895.52V1310.3H896.64V1300.2H898.88V1239.6H900V1168.9H902.25V1259.8H903.37V1219.4H904.49V956.8H906.73V1007.3H907.85V1017.4H910.09V1098.2H913.46V977H914.58V916.4H915.7V876H917.94V1138.6H919.06V1199.2H920.18V1209.3H921.31V1199.2H922.43V1168.9H923.55V1199.2H924.67V1209.3H925.79V1199.2H926.91V1209.3H928.03V1199.2H929.15V1179H930.28V1047.7H931.4V966.9H933.64V1067.9H935.88V946.7H938.12V1078H939.24V1179H940.37V1300.2H944.85V1118.4H945.97V1158.8H948.21V1300.2H949.34V1219.4H950.46V1168.9H951.58V1219.4H953.82V1249.7H954.94V1280H956.06V1219.4H957.18V1199.2H958.3V1179H960.55V1138.6H961.67V1168.9H963.91V1098.2H965.03V1138.6H966.15V1179H968.4V1189.1H969.52V1179H970.64V1209.3H971.76V1219.4H972.88V1209.3H975.12V1219.4H976.24V1179H977.36V1128.5H978.49V956.8H980.73V1088.1H981.85V936.6H982.97V926.5H985.21V1057.8H986.33V1148.7H987.46V1168.9H989.7V1189.1H991.94V1199.2H993.06V1209.3H995.3V1179H997.55V1209.3H1000.91V1148.7H1003.15V1128.5H1005.39V1199.2H1006.52V1128.5H1007.64V1138.6H1009.88V1189.1H1011V1219.4H1012.12V1168.9H1014.36V1209.3H1015.48V1179H1017.73V1199.2H1019.97V1138.6H1021.09V1118.4H1023.33V1148.7H1024.45V1189.1H1026.7V1219.4H1030.06V1320.8ZM1204.96,1320.8V1290.1H1208.33V1300.2H1209.45V1290.1H1213.93V1300.2H1215.06V1290.1H1216.18V1168.9H1218.42V1189.1H1219.54V997.2H1220.66V966.9H1222.9V936.6H1224.02V1158.8H1226.27V1199.2H1227.39V1209.3H1228.51V1168.9H1230.75V1209.3H1231.87V1148.7H1232.99V946.7H1235.24V936.6H1237.48V1108.3H1238.6V1138.6H1240.84V1209.3H1243.08V1219.4H1244.21V1209.3H1245.33V1158.8H1246.45V946.7H1248.69V1108.3H1249.81V1158.8H1250.93V1168.9H1253.18V1199.2H1255.42V1219.4H1256.54V1209.3H1258.78V916.4H1261.02V977H1262.14V956.8H1263.27V886.1H1265.51V1088.1H1266.63V1179H1268.87V1189.1H1269.99V1199.2H1271.11V1209.3H1273.36V1219.4H1275.6V1209.3H1276.72V1168.9H1280.08V1199.2H1283.45V1209.3H1285.69V1179H1287.93V1138.6H1290.17V1128.5H1291.3V1138.6H1292.42V1209.3H1293.54V1219.4H1294.66V1179H1295.78V1219.4H1299.14V1209.3H1301.39V1168.9H1302.51V855.8H1304.75V1007.3H1306.99V1148.7H1308.11V1179H1309.23V936.6H1310.36V855.8H1313.72V1037.6H1314.84V1118.4H1315.96V1229.5H1317.08V1249.7H1318.2V1300.2H1321.57V1249.7H1323.81V1168.9H1324.93V1067.9H1327.17V1108.3H1328.29V1148.7H1330.54V1199.2H1331.66V1209.3H1332.78V1219.4H1333.9V1168.9H1336.14V1209.3H1338.38V1219.4H1339.51V1209.3H1340.63V1189.1H1341.75V1128.5H1342.87V1098.2H1345.11V1189.1H1346.23V1118.4H1348.48V1189.1H1349.6V1209.3H1351.84V1118.4H1352.96V1320.8ZM1527.86,1320.8V1300.2H1536.83V1310.3H1537.96V1300.2H1540.2V1310.3H1541.32V1300.2H1544.68V1047.7H1545.8V855.8H1548.05V966.9H1550.29V1088.1H1552.53V1027.5H1554.77V1057.8H1555.89V1179H1558.14V1209.3H1561.5V1168.9H1563.74V1209.3H1565.98V1219.4H1567.11V1209.3H1569.35V1168.9H1571.59V1209.3H1574.95V1098.2H1576.08V1088.1H1578.32V1189.1H1580.56V1158.8H1582.8V1189.1H1583.92V1239.6H1586.17V1290.1H1587.29V1280H1589.53V1300.2H1591.77V1249.7H1594.01V1269.9H1595.14V1179H1596.26V1189.1H1599.62V1158.8H1601.86V1189.1H1602.98V1209.3H1604.1V1219.4H1605.23V1209.3H1606.35V1199.2H1608.59V1158.8H1610.83V1209.3H1613.07V1219.4H1614.2V1209.3H1616.44V1219.4H1617.56V1158.8H1618.68V1199.2H1620.92V997.2H1622.04V916.4H1624.29V886.1H1626.53V1017.4H1627.65V1189.1H1628.77V1199.2H1629.89V1209.3H1631.01V1199.2H1632.13V1209.3H1633.26V1219.4H1634.38V1189.1H1635.5V1199.2H1637.74V1209.3H1639.98V1219.4H1641.1V1209.3H1643.35V1179H1644.47V1067.9H1645.59V906.3H1647.83V1098.2H1650.07V1179H1652.32V1138.6H1653.44V1179H1655.68V1209.3H1656.8V1179H1659.04V1189.1H1661.28V1108.3H1663.53V1179H1664.65V1209.3H1665.77V1219.4H1668.01V1209.3H1670.25V1219.4H1671.38V1229.5H1672.5V1219.4H1673.62V1199.2H1675.86V1320.8Z"/>
<rect x="153.8" y="814.9" width="2.15" height="505.6" fill="#6e6e6e"/>
<rect x="156" y="1320.95" width="2261" height="1.1" fill="#6c6c6c"/>
<path d="M143.5,1320.4H154M143.5,1269.9H154M143.5,1219.4H154M143.5,1168.9H154M143.5,1118.4H154M143.5,1067.9H154M143.5,1017.4H154M143.5,966.9H154M143.5,916.4H154M143.5,865.9H154M143.5,815.4H154" stroke="#8c8c8c" stroke-width="1" fill="none"/>
<path d="M156.1,1322V1332.3M479,1322V1332.3M801.9,1322V1332.3M1124.8,1322V1332.3M1447.7,1322V1332.3M1770.6,1322V1332.3M2093.5,1322V1332.3" stroke="#9e9e9e" stroke-width="1" fill="none"/>
<g font-family="'DejaVu Sans','Liberation Sans',sans-serif" font-size="20.8" fill="#3a3a3a" text-anchor="end">
<text x="134.2" y="1326.7">0</text>
<text x="134.2" y="1276.2">5</text>
<text x="134.2" y="1225.7">10</text>
<text x="134.2" y="1175.2">15</text>
<text x="134.2" y="1124.7">20</text>
<text x="134.2" y="1074.2">25</text>
<text x="134.2" y="1023.7">30</text>
<text x="134.2" y="973.2">35</text>
<text x="134.2" y="922.7">40</text>
<text x="134.2" y="872.2">45</text>
<text x="134.2" y="821.7">50</text>
</g>
<g font-family="'DejaVu Sans','Liberation Sans',sans-serif" font-size="20" fill="#000" text-anchor="middle">
<text x="156.1" y="1356.7">lun. 06</text>
<text x="479" y="1356.7">mar. 07</text>
<text x="801.9" y="1356.7">mer. 08</text>
<text x="1124.8" y="1356.7">jeu. 09</text>
<text x="1447.7" y="1356.7">ven. 10</text>
<text x="1770.6" y="1356.7">sam. 11</text>
<text x="2093.5" y="1356.7">dim. 12</text>
</g>
<text transform="translate(86,1067.5) rotate(-90)" font-family="'DejaVu Sans Condensed','Liberation Sans',sans-serif" font-size="22" fill="#3a3a3a" text-anchor="middle">kW</text>
</g>
<g id="infos-week">
<rect x="562" y="806" width="412" height="58" rx="10" fill="#fff" stroke="#808080" stroke-width="4"/>
<text x="778" y="845.9" font-family="'DejaVu Sans Condensed','Liberation Sans',sans-serif" font-size="26.6" fill="#000" text-anchor="middle" textLength="311" lengthAdjust="spacingAndGlyphs">Consommation: 951 kWh</text>
<rect x="1100" y="806" width="412" height="58" rx="10" fill="#fff" stroke="#808080" stroke-width="4"/>
<text x="1316" y="845.9" font-family="'DejaVu Sans Condensed','Liberation Sans',sans-serif" font-size="26.6" fill="#000" text-anchor="middle" textLength="187.5" lengthAdjust="spacingAndGlyphs">P Max :  46 kW</text>
<rect x="1610" y="806" width="412" height="58" rx="10" fill="#fff" stroke="#808080" stroke-width="4"/>
<text x="1826" y="845.9" font-family="'DejaVu Sans Condensed','Liberation Sans',sans-serif" font-size="26.6" fill="#000" text-anchor="middle" textLength="159" lengthAdjust="spacingAndGlyphs">P min : 1 kW</text>
</g>
<g id="logo">
<path d="M2322.3,1322.3H2437.8V1376a5,5 0 0 1 -5,5H2322.3Z" fill="#fff"/>
<text x="2332.5" y="1363" font-family="'Liberation Sans',sans-serif" font-weight="bold" font-size="40" fill="#0b6db7" textLength="54" lengthAdjust="spacingAndGlyphs">G2</text>
<path d="M2392.4,1324.8 L2383.6,1338.6 L2390.2,1340.6 L2389.4,1363 L2399.8,1338.4 L2392.6,1336.6 Z" fill="#ea5b25"/>
<path d="M2403.3,1339H2424.4L2420.4,1344.5H2400.8Z M2398.6,1348.3H2418.5L2414.5,1353.8H2396.4Z M2394.4,1357.6H2416.8L2412.8,1363H2392.4Z" fill="#f39120"/>
<text x="2393.6" y="1334.5" font-family="'Liberation Sans',sans-serif" font-weight="bold" font-size="6.9" fill="#ea5b25" textLength="30.4" lengthAdjust="spacingAndGlyphs">FRANCE</text>
<text x="2339.5" y="1368.4" font-family="'Liberation Sans',sans-serif" font-size="3.6" fill="#2d7fc1" textLength="74.8" lengthAdjust="spacingAndGlyphs">Optimisation des ressources énergétiques</text>
</g>
</svg></body></html>
